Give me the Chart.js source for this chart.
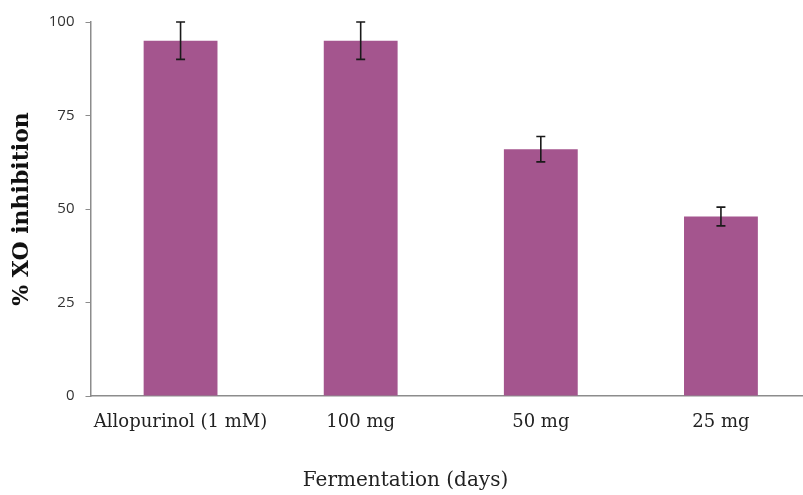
<!DOCTYPE html>
<html>
<head>
<meta charset="utf-8">
<script src="https://cdn.jsdelivr.net/npm/chart.js@4"></script>
<style>
html,body{margin:0;padding:0;background:#fff;overflow:hidden;}
canvas{display:block;}
</style>
</head>
<body>
<canvas id="c" width="811" height="495"></canvas>
<script>
const categories = ["Allopurinol (1 mM)", "100 mg", "50 mg", "25 mg"];
const inhibition = [95, 95, 66, 48];
const errors = [5, 5, 3.4, 2.5];
const yTicks = [0, 25, 50, 75, 100];

const errorBars = {
  id: 'errorBars',
  afterDatasetsDraw(chart) {
    const ctx = chart.ctx;
    const meta = chart.getDatasetMeta(0);
    const ys = chart.scales.y;
    ctx.save();
    ctx.strokeStyle = '#1a1a1a';
    ctx.lineWidth = 1.6;
    meta.data.forEach((bar, i) => {
      const v = inhibition[i], e = errors[i];
      const yt = ys.getPixelForValue(v + e);
      const yb = ys.getPixelForValue(v - e);
      const x = bar.x;
      ctx.beginPath();
      ctx.moveTo(x, yt); ctx.lineTo(x, yb);
      ctx.moveTo(x - 4.5, yt); ctx.lineTo(x + 4.5, yt);
      ctx.moveTo(x - 4.5, yb); ctx.lineTo(x + 4.5, yb);
      ctx.stroke();
    });
    ctx.restore();
  }
};

new Chart(document.getElementById('c'), {
  type: 'bar',
  data: {
    labels: categories,
    datasets: [{
      data: inhibition,
      backgroundColor: '#A4558E',
      borderWidth: 0,
      barPercentage: 0.41,
      categoryPercentage: 1.0
    }]
  },
  options: {
    responsive: false,
    devicePixelRatio: 1,
    animation: false,
    layout: { padding: { top: 22, right: 0, left: 0, bottom: 0 } },
    plugins: {
      legend: { display: false },
      tooltip: { enabled: false },
      title: {
        display: true,
        position: 'bottom',
        text: 'Fermentation (days)',
        color: '#222',
        font: { family: 'DejaVu Serif', size: 20, weight: 'normal', lineHeight: 1.2 },
        padding: { top: 0, bottom: 2 }
      }
    },
    scales: {
      x: {
        grid: { display: false, drawTicks: false },
        border: { display: true, color: '#8c8c8c', width: 1.5 },
        ticks: {
          color: '#222',
          padding: 16,
          maxRotation: 0,
          autoSkip: false,
          font: { family: 'DejaVu Serif', size: 18 }
        },
        afterFit(s) { s.height = 73; }
      },
      y: {
        min: 0,
        max: 100,
        afterBuildTicks(s) { s.ticks = yTicks.map(v => ({ value: v })); },
        grid: { display: true, drawOnChartArea: false, drawTicks: true, tickLength: 5, color: '#8c8c8c', lineWidth: 1 },
        border: { display: true, color: '#8c8c8c', width: 1.5 },
        ticks: {
          color: '#333',
          padding: 11,
          font: { family: 'Open Sans', size: 15 }
        },
        title: {
          display: true,
          text: '% XO inhibition',
          color: '#111',
          font: { family: 'DejaVu Serif', size: 22, weight: 'bold', lineHeight: 1.2 },
          padding: { top: 9, bottom: 0 }
        },
        afterFit(s) { s.width = 90.5; }
      }
    }
  },
  plugins: [errorBars]
});
</script>
</body>
</html>
